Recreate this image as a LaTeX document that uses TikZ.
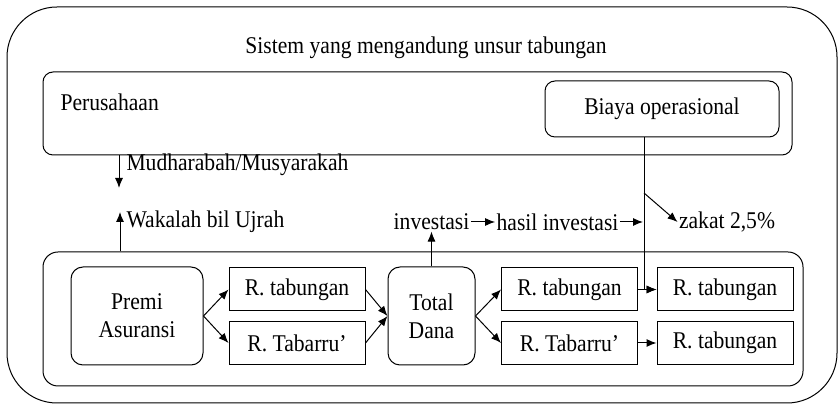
\documentclass[tikz,border=0pt]{standalone}
\usepackage{fontspec}
\setmainfont{Liberation Serif}[FakeStretch=0.9]
\usepackage{tikz}
\usetikzlibrary{arrows,arrows.meta}
\usetikzlibrary{positioning,calc}

\begin{document}
\begin{tikzpicture}[x=1pt,y=1pt,line width=1pt,font=\fontsize{24}{28}\selectfont]
    \tikzstyle{box}=[draw,rectangle,minimum width=136pt,minimum height=43pt,inner sep=0pt]
    \tikzstyle{rbox}=[draw,rectangle,rounded corners=12pt,minimum height=98pt,inner sep=0pt,align=center]
    \tikzstyle{lbl}=[inner sep=1pt]
    \tikzstyle{arr}=[-{Latex[length=10pt,width=8pt]}]

    \useasboundingbox (0,0) rectangle (840,406);
    \draw[rounded corners=50pt] (7,3) rectangle (837,399);
    \node[lbl] at (426,358) (sys) {Sistem yang mengandung unsur tabungan};

    % perusahaan
    \node[draw,rounded corners=10pt,minimum width=749pt,minimum height=83pt] at (417.5,292.5) (f) {};
    \node[lbl,anchor=west] at (59,304) (prs) {Perusahaan};
    \node[draw,rounded corners=10pt,minimum width=234pt,minimum height=56pt] at (662,297) (b) {Biaya operasional};

    % tabungan
    \node[draw,rounded corners=15pt,minimum width=760pt,minimum height=134pt] at (423,87) (g) {};
    \node[rbox,minimum width=132pt] at (137,90) (premi) {Premi\\Asuransi};
    \node[box] at (297,116.5) (r1) {R. tabungan};
    \node[box] at (297,63) (r2) {R. Tabarru’};
    \node[rbox,minimum width=87pt] at (431.5,90) (dana) {Total\\Dana};
    \node[box] at (569.5,116.5) (r3) {R. tabungan};
    \node[box] at (569.5,63) (r4) {R. Tabarru’};
    \node[box] at (725,116.5) (r5) {R. tabungan};
    \node[box] at (725,63) (r6) {R. tabungan};

    \foreach \a/\b in {premi/r1,premi/r2,r1/dana,r2/dana,dana/r3,dana/r4,r3/r5,r4/r6} {
      \draw[arr] (\a.east) -- (\b.west);
    }

    % akad
    \node[lbl,anchor=west] at (125,241) (mud) {Mudharabah/Musyarakah};
    \node[lbl,anchor=west] at (125,184) (wak) {Wakalah bil Ujrah};
    \coordinate (m1) at (119,218);
    \coordinate (w1) at (120,194);
    \draw[arr] (f.south -| m1) -- (m1);
    \draw[arr] (g.north -| w1) -- (w1);

    % investasi
    \node[lbl] at (431.5,184) (inv) {investasi};
    \node[lbl] at (557.5,184) (hsl) {hasil investasi};
    \node[lbl] at (727,184) (zkt) {zakat 2,5\%};
    \coordinate (v) at (644,213);
    \coordinate (j) at (643,184);
    \draw[arr] (dana.north) -- (inv.south);
    \draw[arr] (inv) -- (hsl);
    \draw[arr] (hsl) -- (j);
    \draw[arr] (b.south -| v) |- (r5.west);
    \draw[arr] (v) -- (zkt.west);
\end{tikzpicture}
\end{document}
